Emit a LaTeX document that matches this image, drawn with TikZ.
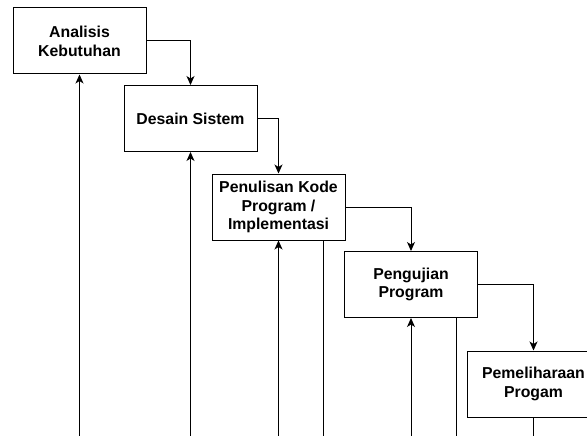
\documentclass[tikz,border=0pt]{standalone}
\usepackage{fontspec}
\setmainfont{Liberation Sans}
\usetikzlibrary{arrows.meta}
\begin{document}
\begin{tikzpicture}[x=1pt,y=-1pt,
  phase/.style={draw, line width=1pt, fill=white, minimum width=133pt, minimum height=66pt,
    inner sep=0pt, align=center, font=\fontsize{15.8}{18.8}\selectfont\bfseries},
  flow/.style={draw, line width=1pt, -{Stealth[length=9pt,width=8pt,inset=2.5pt]}},
  plain/.style={draw, line width=1pt}]
\useasboundingbox (0,0) rectangle (587,436);
\clip (0,0) rectangle (587,436);
% waterfall phases
\node[phase] (b1) at (79.5,41) {Analisis\\Kebutuhan};
\node[phase] (b2) at (190.5,118.5) {Desain Sistem};
\node[phase] (b3) at (278.5,207) {Penulisan Kode\\Program /\\Implementasi};
\node[phase] (b4) at (411,284.5) {Pengujian\\Program};
\node[phase] (b5) at (533.5,384) {Pemeliharaan\\Progam};
% forward flow
\draw[flow] (b1.east) -| (b2.north);
\draw[flow] (b2.east) -| (b3.north);
\draw[flow] (b3.east) -| (b4.north);
\draw[flow] (b4.east) -| (b5.north);
% feedback lines running off the bottom
\coordinate (f1) at (79.5,445);
\coordinate (f2) at (190.5,445);
\coordinate (f3) at (278.5,445);
\coordinate (f4) at (411,445);
\draw[flow] (f1) -- (b1.south);
\draw[flow] (f2) -- (b2.south);
\draw[flow] (f3) -- (b3.south);
\draw[flow] (f4) -- (b4.south);
\coordinate (d3) at (323,445);
\coordinate (d4) at (456,445);
\coordinate (d5) at (533.5,445);
\draw[plain] (b3.south -| d3) -- (d3);
\draw[plain] (b4.south -| d4) -- (d4);
\draw[plain] (b5.south) -- (d5);
\end{tikzpicture}
\end{document}
